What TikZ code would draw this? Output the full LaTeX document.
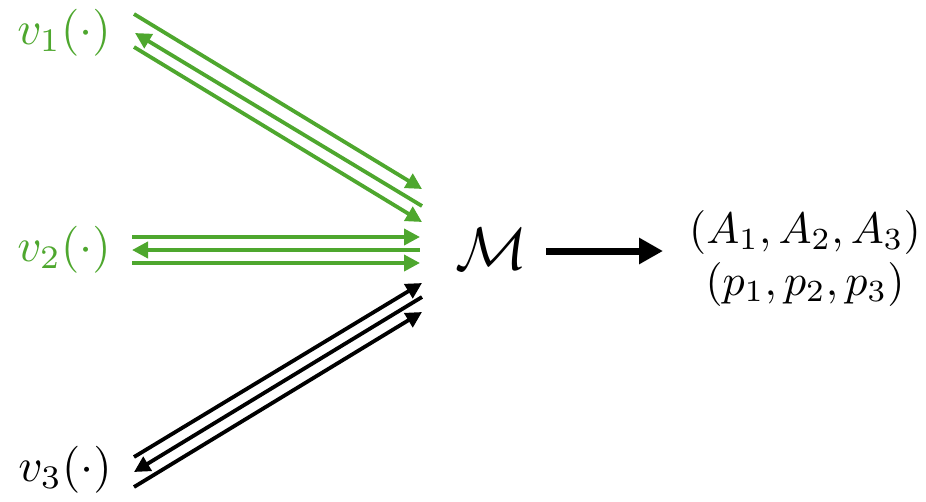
\documentclass[tikz,border=0pt]{standalone}
\usetikzlibrary{arrows.meta}
\definecolor{grn}{RGB}{78,167,46}
\newcommand{\bigt}[2]{\scalebox{#1}{#2}}
\begin{document}
\begin{tikzpicture}[x=1pt,y=-1pt,
  ln/.style={line width=3.8pt},
  fwd/.style={ln,-{Triangle[length=16pt,width=16pt]}},
  bwd/.style={ln,{Triangle[length=16pt,width=16pt]}-},
  lbl/.style={inner sep=0pt, anchor=base}]
\useasboundingbox (0,0) rectangle (926,501);
% labels
\node[lbl,text=grn] (v1) at (64,44) {\bigt{4.7}{$v_1(\cdot)$}};
\node[lbl,text=grn] (v2) at (64,261) {\bigt{4.7}{$v_2(\cdot)$}};
\node[lbl] (v3) at (65,481) {\bigt{4.7}{$v_3(\cdot)$}};
\node[lbl] (M) at (492,269) {\bigt{6}{$\mathcal{M}$}};
\node[lbl] (A) at (805,243) {\bigt{4.4}{$(A_1,A_2,A_3)$}};
\node[lbl] (P) at (805,295) {\bigt{4.4}{$(p_1,p_2,p_3)$}};
% coordinates group 1
\coordinate (a1s) at (134,14);  \coordinate (a1e) at (422,189);
\coordinate (a2s) at (135,33);  \coordinate (a2e) at (422,206);
\coordinate (a3s) at (134,47);  \coordinate (a3e) at (422,222);
% group 2
\coordinate (b1s) at (132,237); \coordinate (b1e) at (420,237);
\coordinate (b2s) at (132,250); \coordinate (b2e) at (420,250);
\coordinate (b3s) at (132,263); \coordinate (b3e) at (420,263);
% group 3
\coordinate (c1s) at (134,457); \coordinate (c1e) at (422,283);
\coordinate (c2s) at (134,472); \coordinate (c2e) at (422,297);
\coordinate (c3s) at (134,487); \coordinate (c3e) at (422,312);
% output arrow
\coordinate (os) at (546,251); \coordinate (oe) at (663,251);
\begin{scope}[draw=grn]
\draw[fwd] (a1s) -- (a1e);
\draw[bwd] (a2s) -- (a2e);
\draw[fwd] (a3s) -- (a3e);
\draw[fwd] (b1s) -- (b1e);
\draw[bwd] (b2s) -- (b2e);
\draw[fwd] (b3s) -- (b3e);
\end{scope}
\draw[fwd] (c1s) -- (c1e);
\draw[bwd] (c2s) -- (c2e);
\draw[fwd] (c3s) -- (c3e);
\draw[line width=7pt,-{Triangle[length=24pt,width=25pt]}] (os) -- (oe);
\end{tikzpicture}
\end{document}
